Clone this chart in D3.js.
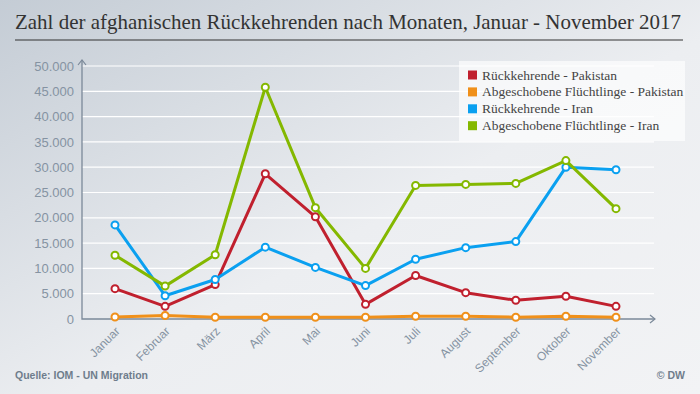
<!DOCTYPE html>
<html><head><meta charset="utf-8">
<script src="https://cdn.jsdelivr.net/npm/d3@7"></script>
<style>html,body{margin:0;padding:0;}svg{display:block;}</style>
</head><body>
<script>
const months = ["Januar","Februar","März","April","Mai","Juni","Juli","August","September","Oktober","November"];
const rueckPakistan = [6000,2500,6800,28700,20200,2900,8600,5200,3700,4500,2500];
const abgePakistan = [400,700,350,350,350,350,550,550,350,550,350];
const rueckIran = [18600,4600,7800,14200,10200,6600,11800,14100,15300,30000,29500];
const abgeIran = [12600,6500,12700,45800,22000,10000,26400,26600,26800,31300,21800];
const yTicks = [0,5000,10000,15000,20000,25000,30000,35000,40000,45000,50000];
const seriesNames = ["Rückkehrende - Pakistan","Abgeschobene Flüchtlinge - Pakistan","Rückkehrende - Iran","Abgeschobene Flüchtlinge - Iran"];
const seriesColors = ["#c0202e","#f0901a","#0aa0f0","#84b800"];
const seriesData = [rueckPakistan, abgePakistan, rueckIran, abgeIran];

const W=700,H=394;
const svg=d3.select("body").append("svg").attr("width",W).attr("height",H);
const defs=svg.append("defs");
const g=defs.append("linearGradient").attr("id","bg").attr("x1","0").attr("y1","0").attr("x2","1").attr("y2","1");
g.append("stop").attr("offset","0").attr("stop-color","#c4ccd5");
g.append("stop").attr("offset","0.55").attr("stop-color","#eceef1");
g.append("stop").attr("offset","1").attr("stop-color","#f2f3f5");
svg.append("rect").attr("width",W).attr("height",H).attr("fill","url(#bg)");

svg.append("text").attr("x",15).attr("y",29).text("Zahl der afghanischen Rückkehrenden nach Monaten, Januar - November 2017")
  .attr("font-family","Liberation Serif, Times New Roman, serif").attr("font-size",21).attr("fill","#333")
  .attr("textLength",666).attr("lengthAdjust","spacingAndGlyphs");
svg.append("line").attr("x1",15).attr("x2",683).attr("y1",40).attr("y2",40).attr("stroke","#333").attr("stroke-width",1.2);

const x=d3.scalePoint().domain(months).range([115,616]);
const y=d3.scaleLinear().domain([0,50000]).range([319,66]);
const fmtDE=v=>d3.format(",")(v).replace(/,/g,".");

// gridlines
svg.append("g").selectAll("line").data(yTicks.filter(d=>d>0)).join("line")
  .attr("x1",82).attr("x2",654).attr("y1",d=>y(d)).attr("y2",d=>y(d))
  .attr("stroke","#ffffff").attr("stroke-width",1.2);

// y axis labels
const yAxis=d3.axisLeft(y).tickValues(yTicks).tickFormat(fmtDE).tickSize(0).tickPadding(8);
const ya=svg.append("g").attr("transform","translate(82,0)").call(yAxis);
ya.select(".domain").remove();
ya.selectAll("text").attr("font-family","Liberation Sans, Arial, sans-serif").attr("font-size",13).attr("fill","#8593a2");

// x axis labels
const xAxis=d3.axisBottom(x).tickSize(0).tickPadding(0);
const xa=svg.append("g").attr("transform","translate(0,319)").call(xAxis);
xa.select(".domain").remove();
xa.selectAll("text").attr("font-family","Liberation Sans, Arial, sans-serif").attr("font-size",12).attr("fill","#8593a2")
  .attr("text-anchor","end").attr("dy",0).attr("transform","translate(5,13) rotate(-45)");

// axes lines with arrows
const ac="#7b8999";
svg.append("path").attr("d",`M82,60 L82,319 L655,319`).attr("fill","none").attr("stroke",ac).attr("stroke-width",1.3);
svg.append("path").attr("d",`M78,65 L82,60 L86,65`).attr("fill","none").attr("stroke",ac).attr("stroke-width",1.2);
svg.append("path").attr("d",`M650,315 L655,319 L650,323`).attr("fill","none").attr("stroke",ac).attr("stroke-width",1.2);

// lines
const line=d3.line().x((d,i)=>x(months[i])).y(d=>y(d));
const order=[1,0,2,3];
order.forEach(si=>{
  const gs=svg.append("g");
  gs.append("path").datum(seriesData[si]).attr("d",line).attr("fill","none")
    .attr("stroke",seriesColors[si]).attr("stroke-width",3).attr("stroke-linejoin","round");
  gs.selectAll("circle").data(seriesData[si]).join("circle")
    .attr("cx",(d,i)=>x(months[i])).attr("cy",d=>y(d)).attr("r",3.5)
    .attr("fill","#fff").attr("stroke",seriesColors[si]).attr("stroke-width",2);
});

// legend
const lg=svg.append("g");
lg.append("rect").attr("x",459).attr("y",61).attr("width",226).attr("height",80).attr("fill","#ffffff").attr("fill-opacity",0.65);
seriesNames.forEach((n,i)=>{
  const cy=75+i*16.9;
  lg.append("rect").attr("x",468).attr("y",cy-4.5).attr("width",9).attr("height",9).attr("fill",seriesColors[i]);
  lg.append("text").attr("x",482).attr("y",cy+4.5).text(n)
    .attr("font-family","Liberation Serif, Times New Roman, serif").attr("font-size",13.5).attr("fill","#444");
});

svg.append("text").attr("x",15).attr("y",379).text("Quelle: IOM - UN Migration")
  .attr("font-family","Liberation Sans, Arial, sans-serif").attr("font-weight","bold").attr("font-size",10.5).attr("fill","#6f7d8c");
svg.append("text").attr("x",685).attr("y",379).attr("text-anchor","end").text("© DW")
  .attr("font-family","Liberation Sans, Arial, sans-serif").attr("font-weight","bold").attr("font-size",10.5).attr("fill","#6f7d8c");
</script>
</body></html>
